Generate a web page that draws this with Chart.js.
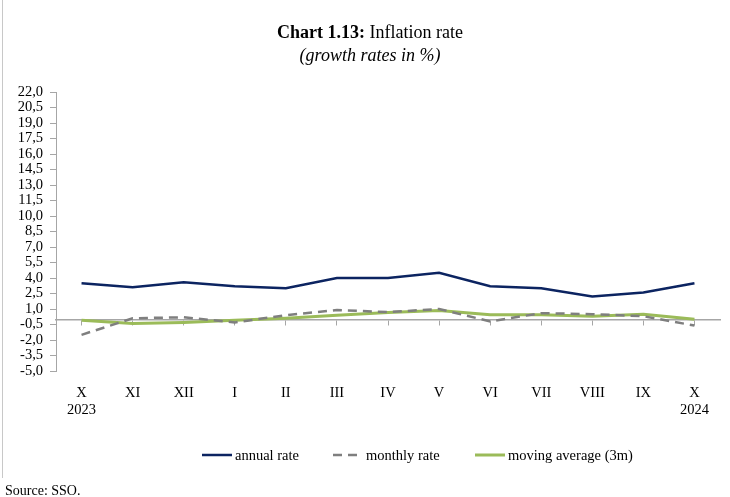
<!DOCTYPE html>
<html>
<head>
<meta charset="utf-8">
<script src="https://cdn.jsdelivr.net/npm/chart.js@4/dist/chart.umd.min.js"></script>
<style>
  html, body { margin: 0; padding: 0; background: #fff; }
  #wrap { position: relative; width: 730px; height: 497px; overflow: hidden; font-family: "Liberation Serif", serif; color: #000; }
  #frame { position: absolute; left: 2px; top: 0; width: 0; height: 478px; border-left: 1px solid #c8c8c8; }
  #title { position: absolute; top: 21px; left: 0; width: 740px; text-align: center; font-size: 18px; line-height: 23px; }
  #title .sub { font-style: italic; }
  #chartBox { position: absolute; left: 0; top: 0; width: 730px; height: 497px; }
  #legend { position: absolute; top: 445px; left: 0; width: 730px; height: 20px; font-size: 14.5px; }
  .item { position: absolute; top: 0; display: flex; align-items: center; height: 20px; white-space: nowrap; }
  .item svg { margin-right: 3px; }
  #source { position: absolute; left: 5px; top: 483px; font-size: 14px; }
</style>
</head>
<body>
<div id="wrap">
  <div id="frame"></div>
  <div id="chartBox"><canvas id="c" width="730" height="497"></canvas></div>
  <div id="title"><b>Chart 1.13:</b> Inflation rate<br><span class="sub">(growth rates in %)</span></div>
  <div id="legend">
    <div class="item" style="left:202px"><svg width="30" height="6"><line x1="0" y1="3" x2="30" y2="3" stroke="#0c2461" stroke-width="2.5"/></svg>annual rate</div>
    <div class="item" style="left:333px"><svg width="30" height="6"><line x1="0" y1="3" x2="30" y2="3" stroke="#7f7f7f" stroke-width="2.5" stroke-dasharray="9,6"/></svg>monthly rate</div>
    <div class="item" style="left:475px"><svg width="30" height="6"><line x1="0" y1="3" x2="30" y2="3" stroke="#9bbb59" stroke-width="3"/></svg>moving average (3m)</div>
  </div>
  <div id="source">Source: SSO.</div>
</div>
<script>
const categories = [["X","2023"],"XI","XII","I","II","III","IV","V","VI","VII","VIII","IX",["X","2024"]];
const annualRate = [3.5, 3.1, 3.6, 3.2, 3.0, 4.0, 4.0, 4.5, 3.2, 3.0, 2.2, 2.6, 3.5];
const monthlyRate = [-1.5, 0.1, 0.2, -0.3, 0.4, 0.9, 0.7, 1.0, -0.2, 0.6, 0.5, 0.3, -0.6];
const movingAverage = [-0.1, -0.4, -0.3, -0.1, 0.1, 0.4, 0.65, 0.85, 0.45, 0.45, 0.3, 0.5, 0.0];
const yMin = -5, yMax = 22, yStep = 1.5;

const tickFont = { family: "Liberation Serif", size: 14.5 };
new Chart(document.getElementById('c'), {
  type: 'line',
  data: {
    labels: categories,
    datasets: [
      { label: 'annual rate', data: annualRate, borderColor: '#0c2461', borderWidth: 2.5, pointRadius: 0, tension: 0, fill: false },
      { label: 'monthly rate', data: monthlyRate, borderColor: '#7f7f7f', borderWidth: 2.5, borderDash: [9, 6], pointRadius: 0, tension: 0, fill: false },
      { label: 'moving average (3m)', data: movingAverage, borderColor: '#9bbb59', borderWidth: 3, pointRadius: 0, tension: 0, fill: false }
    ]
  },
  options: {
    responsive: false,
    animation: false,
    layout: { padding: { top: 92, left: 0, right: 10, bottom: 81 } },
    plugins: { legend: { display: false }, title: { display: false }, tooltip: { enabled: false } },
    scales: {
      x: {
        type: 'category',
        offset: true,
        grid: { display: false, drawTicks: false },
        border: { display: false },
        ticks: { color: '#000', font: tickFont, padding: 13, maxRotation: 0, autoSkip: false },
        afterFit: s => { s.height = 45; }
      },
      x2: {
        type: 'category',
        position: { y: 0 },
        offset: true,
        grid: { drawOnChartArea: false, drawTicks: true, tickLength: 5, color: '#a6a6a6', lineWidth: 1 },
        border: { display: true, color: '#a6a6a6', width: 1.5 },
        ticks: { display: false }
      },
      y: {
        min: yMin, max: yMax,
        grid: { drawOnChartArea: false, drawTicks: true, tickLength: 6, color: '#a6a6a6' },
        border: { display: true, color: '#a6a6a6', width: 1 },
        ticks: {
          stepSize: yStep, color: '#000', font: tickFont, padding: 7, autoSkip: false,
          callback: v => v.toFixed(1).replace('.', ',')
        },
        afterFit: s => { s.width = 56; }
      }
    }
  }
});
</script>
</body>
</html>
